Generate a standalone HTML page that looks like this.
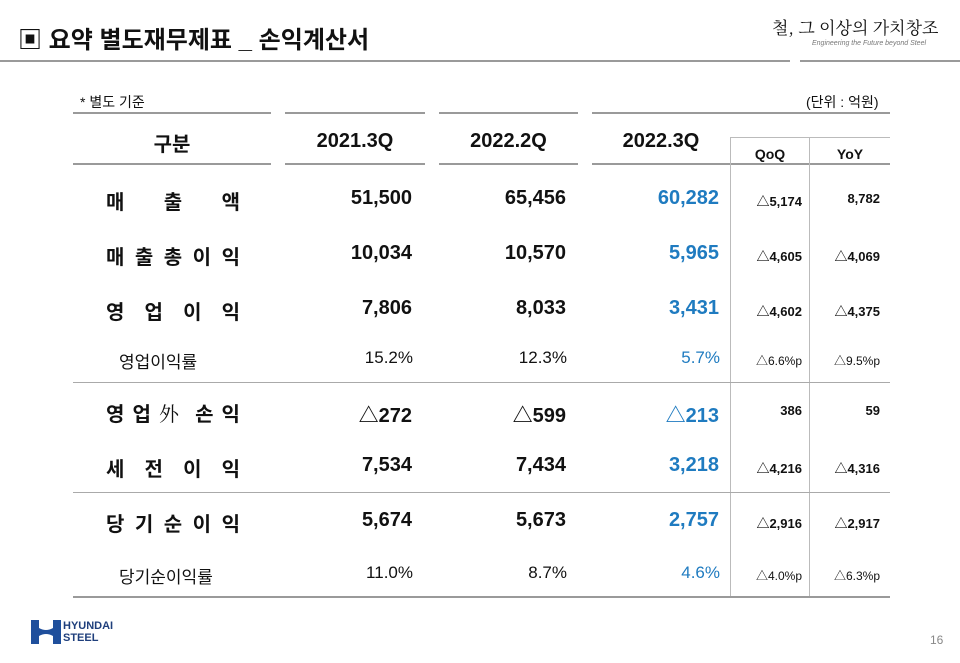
<!DOCTYPE html>
<html><head><meta charset="utf-8"><style>
body{margin:0;width:960px;height:663px;background:#fff;position:relative;overflow:hidden;font-family:"Liberation Sans","Noto Sans CJK KR",sans-serif;color:#111}
.a{position:absolute;white-space:nowrap}
.h{position:absolute;height:2px;background:#9a9a9a}
.v{position:absolute;width:1px;background:#bbb}
.r{text-align:right}
.c{text-align:center}
.big{font-size:20px;font-weight:bold}
.blue{color:#1f7bc0}
.sm{font-size:13px;font-weight:bold}
.pct{font-size:17px}
.tp{font-size:12px}
.lab{position:absolute;left:106px;width:134px;display:flex;justify-content:space-between;font-size:20px;font-weight:bold}
</style></head><body>
<div class="a" style="left:18px;top:20px;font-size:24px;font-weight:bold">▣ 요약 별도재무제표 _ 손익계산서</div>
<div class="a" style="left:772px;top:14px;font-size:17px;font-family:'Noto Serif CJK SC',serif">철, 그 이상의 가치창조</div>
<div class="a" style="left:812px;top:40px;font-size:7px;color:#777;font-style:italic">Engineering the Future beyond Steel</div>
<div class="h" style="left:0;top:60px;width:790px"></div>
<div class="h" style="left:800px;top:60px;width:160px"></div>

<div class="a" style="left:80px;top:92px;font-size:14px">* 별도 기준</div>
<div class="a" style="left:806px;top:92px;font-size:14px">(단위 : 억원)</div>
<div class="h" style="left:73px;top:112px;width:198px"></div>
<div class="h" style="left:285px;top:112px;width:140px"></div>
<div class="h" style="left:439px;top:112px;width:139px"></div>
<div class="h" style="left:592px;top:112px;width:298px"></div>
<div class="a c big" style="left:73px;width:198px;top:128px">구분</div>
<div class="a c big" style="left:285px;width:140px;top:130px">2021.3Q</div>
<div class="a c big" style="left:439px;width:139px;top:130px">2022.2Q</div>
<div class="a c big" style="left:592px;width:138px;top:130px">2022.3Q</div>
<div class="h" style="left:730px;top:137px;width:160px;height:1px;background:#bbb"></div>
<div class="a c sm" style="left:730px;width:80px;top:146px;font-size:14px">QoQ</div>
<div class="a c sm" style="left:810px;width:80px;top:146px;font-size:14px">YoY</div>
<div class="h" style="left:73px;top:163px;width:198px"></div>
<div class="h" style="left:285px;top:163px;width:140px"></div>
<div class="h" style="left:439px;top:163px;width:139px"></div>
<div class="h" style="left:592px;top:163px;width:298px"></div>
<div class="v" style="left:730px;top:137px;height:460px"></div>
<div class="v" style="left:809px;top:137px;height:460px"></div>
<div class="h" style="left:73px;top:382px;width:817px;height:1px;background:#aaa"></div>
<div class="h" style="left:73px;top:492px;width:817px;height:1px;background:#aaa"></div>
<div class="h" style="left:73px;top:596px;width:817px"></div>

<!-- rows -->
<div class="lab" style="top:186px"><span>매</span><span>출</span><span>액</span></div>
<div class="lab" style="top:241px"><span>매</span><span>출</span><span>총</span><span>이</span><span>익</span></div>
<div class="lab" style="top:296px"><span>영</span><span>업</span><span>이</span><span>익</span></div>
<div class="a" style="left:119px;top:348px;font-size:17px">영업이익률</div>
<div class="lab" style="top:398px"><span>영</span><span>업</span><span style="font-weight:normal;font-family:'Noto Serif CJK SC',serif">外</span><span> </span><span>손</span><span>익</span></div>
<div class="lab" style="top:453px"><span>세</span><span>전</span><span>이</span><span>익</span></div>
<div class="lab" style="top:508px"><span>당</span><span>기</span><span>순</span><span>이</span><span>익</span></div>
<div class="a" style="left:119px;top:563px;font-size:17px">당기순이익률</div>

<div class="a r big" style="left:285px;width:127px;top:187px">51,500</div>
<div class="a r big" style="left:285px;width:127px;top:242px">10,034</div>
<div class="a r big" style="left:285px;width:127px;top:297px">7,806</div>
<div class="a r pct" style="left:285px;width:128px;top:348px">15.2%</div>
<div class="a r big" style="left:285px;width:127px;top:399px">△272</div>
<div class="a r big" style="left:285px;width:127px;top:454px">7,534</div>
<div class="a r big" style="left:285px;width:127px;top:509px">5,674</div>
<div class="a r pct" style="left:285px;width:128px;top:563px">11.0%</div>

<div class="a r big" style="left:439px;width:127px;top:187px">65,456</div>
<div class="a r big" style="left:439px;width:127px;top:242px">10,570</div>
<div class="a r big" style="left:439px;width:127px;top:297px">8,033</div>
<div class="a r pct" style="left:439px;width:128px;top:348px">12.3%</div>
<div class="a r big" style="left:439px;width:127px;top:399px">△599</div>
<div class="a r big" style="left:439px;width:127px;top:454px">7,434</div>
<div class="a r big" style="left:439px;width:127px;top:509px">5,673</div>
<div class="a r pct" style="left:439px;width:128px;top:563px">8.7%</div>

<div class="a r big blue" style="left:592px;width:127px;top:187px">60,282</div>
<div class="a r big blue" style="left:592px;width:127px;top:242px">5,965</div>
<div class="a r big blue" style="left:592px;width:127px;top:297px">3,431</div>
<div class="a r pct blue" style="left:592px;width:128px;top:348px">5.7%</div>
<div class="a r big blue" style="left:592px;width:127px;top:399px">△213</div>
<div class="a r big blue" style="left:592px;width:127px;top:454px">3,218</div>
<div class="a r big blue" style="left:592px;width:127px;top:509px">2,757</div>
<div class="a r pct blue" style="left:592px;width:128px;top:563px">4.6%</div>

<div class="a r sm" style="left:730px;width:72px;top:191px">△5,174</div>
<div class="a r sm" style="left:730px;width:72px;top:246px">△4,605</div>
<div class="a r sm" style="left:730px;width:72px;top:301px">△4,602</div>
<div class="a r tp" style="left:730px;width:72px;top:352px">△6.6%p</div>
<div class="a r sm" style="left:730px;width:72px;top:403px">386</div>
<div class="a r sm" style="left:730px;width:72px;top:458px">△4,216</div>
<div class="a r sm" style="left:730px;width:72px;top:513px">△2,916</div>
<div class="a r tp" style="left:730px;width:72px;top:567px">△4.0%p</div>

<div class="a r sm" style="left:809px;width:71px;top:191px">8,782</div>
<div class="a r sm" style="left:809px;width:71px;top:246px">△4,069</div>
<div class="a r sm" style="left:809px;width:71px;top:301px">△4,375</div>
<div class="a r tp" style="left:809px;width:71px;top:352px">△9.5%p</div>
<div class="a r sm" style="left:809px;width:71px;top:403px">59</div>
<div class="a r sm" style="left:809px;width:71px;top:458px">△4,316</div>
<div class="a r sm" style="left:809px;width:71px;top:513px">△2,917</div>
<div class="a r tp" style="left:809px;width:71px;top:567px">△6.3%p</div>

<!-- logo -->
<svg class="a" style="left:31px;top:620px" width="30" height="24" viewBox="0 0 30 24"><path d="M0 0h8v8q7 4 14 0V0h8v24h-8v-8q-7-4-14 0v8H0z" fill="#1f4f9c"/></svg>
<div class="a" style="left:63px;top:620px;font-size:11px;font-weight:bold;color:#1f3f7c;line-height:12px">HYUNDAI<br>STEEL</div>
<div class="a" style="left:930px;top:633px;font-size:12px;color:#888">16</div>
</body></html>
